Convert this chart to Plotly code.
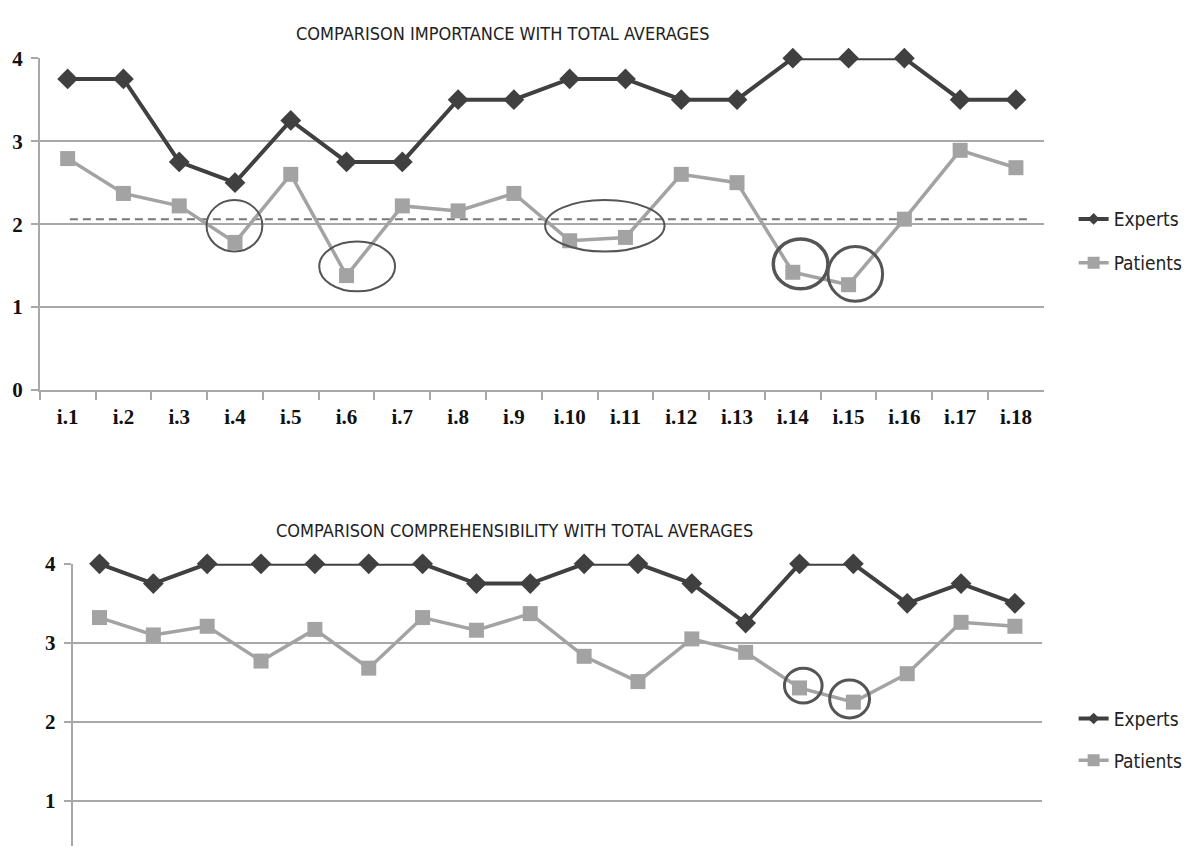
import plotly.graph_objects as go

W, H = 1188, 858

items = ["i.1", "i.2", "i.3", "i.4", "i.5", "i.6", "i.7", "i.8", "i.9",
         "i.10", "i.11", "i.12", "i.13", "i.14", "i.15", "i.16", "i.17", "i.18"]

# Importance ratings
importance_experts = [3.75, 3.75, 2.75, 2.5, 3.25, 2.75, 2.75, 3.5, 3.5,
                      3.75, 3.75, 3.5, 3.5, 4.0, 4.0, 4.0, 3.5, 3.5]
importance_patients = [2.79, 2.37, 2.22, 1.78, 2.60, 1.38, 2.22, 2.16, 2.37,
                       1.80, 1.84, 2.60, 2.50, 1.42, 1.27, 2.06, 2.89, 2.68]
importance_total_average = 2.06

# Comprehensibility ratings
compr_experts = [4.0, 3.75, 4.0, 4.0, 4.0, 4.0, 4.0, 3.75, 3.75,
                 4.0, 4.0, 3.75, 3.25, 4.0, 4.0, 3.5, 3.75, 3.5]
compr_patients = [3.32, 3.10, 3.21, 2.77, 3.17, 2.68, 3.32, 3.16, 3.37,
                  2.83, 2.51, 3.05, 2.88, 2.43, 2.25, 2.61, 3.26, 3.21]

# Highlighted items: (x centre in category units, y centre, half width, half height, line width)
importance_marks = [(2.99, 1.98, 0.50, 0.31, 2),
                    (5.19, 1.49, 0.68, 0.30, 2),
                    (9.63, 1.98, 1.07, 0.31, 2),
                    (13.14, 1.52, 0.49, 0.30, 3.5),
                    (14.12, 1.40, 0.49, 0.33, 3)]
compr_marks = [(13.07, 2.46, 0.35, 0.22, 3),
               (13.93, 2.29, 0.37, 0.24, 3)]

DARK = "#404040"
LIGHT = "#a3a3a3"
GRID = "#a8a8a8"
SANS = "Liberation Sans Narrow, DejaVu Sans Condensed, sans-serif"
SERIF = "Liberation Serif, Times New Roman, serif"


def px_x(p):
    return p / W


def px_y(p):
    return 1 - p / H


fig = go.Figure()

series = [
    ("x", "y", importance_experts, "Experts", DARK, "diamond", 16, 4, 9, "legend"),
    ("x", "y", importance_patients, "Patients", LIGHT, "square", 15, 3.5, 12, "legend2"),
    ("x2", "y2", compr_experts, "Experts", DARK, "diamond", 16, 4, 9, "legend3"),
    ("x2", "y2", compr_patients, "Patients", LIGHT, "square", 15, 3.5, 12, "legend4"),
]
for xa, ya, vals, name, col, sym, msize, lw, leg_size, leg in series:
    fig.add_trace(go.Scatter(
        x=items, y=vals, name=name, xaxis=xa, yaxis=ya, showlegend=False,
        mode="lines+markers", cliponaxis=False,
        line=dict(color=col, width=lw),
        marker=dict(symbol=sym, size=msize, color=col),
    ))
    # legend key with a smaller marker than the plotted points
    fig.add_trace(go.Scatter(
        x=[None], y=[None], name=name, xaxis=xa, yaxis=ya, legend=leg,
        mode="lines+markers",
        line=dict(color=col, width=lw),
        marker=dict(symbol=sym, size=leg_size, color=col),
    ))

tick_font = dict(family=SERIF, size=21, color="#111", weight="bold")
yaxis_common = dict(showline=True, linecolor=GRID, linewidth=1.5,
                    ticks="outside", ticklen=7, tickcolor=GRID, tickwidth=1.5,
                    showgrid=True, gridcolor=GRID, gridwidth=1.5,
                    zeroline=False, tickfont=tick_font, ticklabelstandoff=4)

fig.update_layout(
    width=W, height=H,
    margin=dict(l=0, r=0, t=0, b=0),
    paper_bgcolor="white", plot_bgcolor="white",
    showlegend=True,
    xaxis=dict(domain=[px_x(40), px_x(1050)], anchor="y", type="category",
               range=[-0.5, 17.5], showline=True, linecolor=GRID, linewidth=1.5,
               tickson="boundaries", ticks="outside", ticklen=8, tickcolor=GRID,
               tickwidth=1.5, showgrid=False, zeroline=False,
               tickfont=tick_font, ticklabelstandoff=7),
    yaxis=dict(domain=[px_y(389), px_y(47.5)], anchor="x", range=[0, 4],
               dtick=1, **yaxis_common),
    xaxis2=dict(domain=[px_x(73), px_x(1048)], anchor="y2", type="category",
                range=[-0.5, 17.5], showline=False, showticklabels=False,
                ticks="", showgrid=False, zeroline=False),
    yaxis2=dict(domain=[0, px_y(567.7)], anchor="x2", range=[0.43, 4],
                tickvals=[1, 2, 3, 4], **yaxis_common),
)

# Legends, one entry each so the rows sit where they belong
leg_style = dict(font=dict(family=SANS, size=19, color="#222"),
                 bgcolor="rgba(0,0,0,0)", xanchor="left", yanchor="middle",
                 itemwidth=30, x=px_x(1080))
fig.update_layout(
    legend=dict(y=px_y(213), **leg_style),
    legend2=dict(y=px_y(258), **leg_style),
    legend3=dict(y=px_y(727), **leg_style),
    legend4=dict(y=px_y(770), **leg_style),
)

# Titles
fig.add_annotation(text="COMPARISON IMPORTANCE WITH TOTAL AVERAGES",
                   xref="paper", yref="paper", x=px_x(506), y=px_y(22),
                   xanchor="center", yanchor="middle",
                   showarrow=False, font=dict(family=SANS, size=18, color="#222"))
fig.add_annotation(text="COMPARISON COMPREHENSIBILITY WITH TOTAL AVERAGES",
                   xref="paper", yref="paper", x=px_x(518), y=px_y(533),
                   xanchor="center", yanchor="middle",
                   showarrow=False, font=dict(family=SANS, size=18, color="#222"))

# Total average of the patients' importance ratings
fig.add_shape(type="line", xref="x domain", yref="y",
              x0=0.03, x1=0.988, y0=importance_total_average, y1=importance_total_average,
              line=dict(color="#777777", width=2, dash="8px,5px"), layer="below")

# Ellipses around low-scoring items
for marks, xr, yr in ((importance_marks, "x", "y"), (compr_marks, "x2", "y2")):
    for cx, cy, rx, ry, lw in marks:
        fig.add_shape(type="circle", xref=xr, yref=yr,
                      x0=cx - rx, x1=cx + rx, y0=cy - ry, y1=cy + ry,
                      line=dict(color="#555555", width=lw))

fig.write_html("out.html")
